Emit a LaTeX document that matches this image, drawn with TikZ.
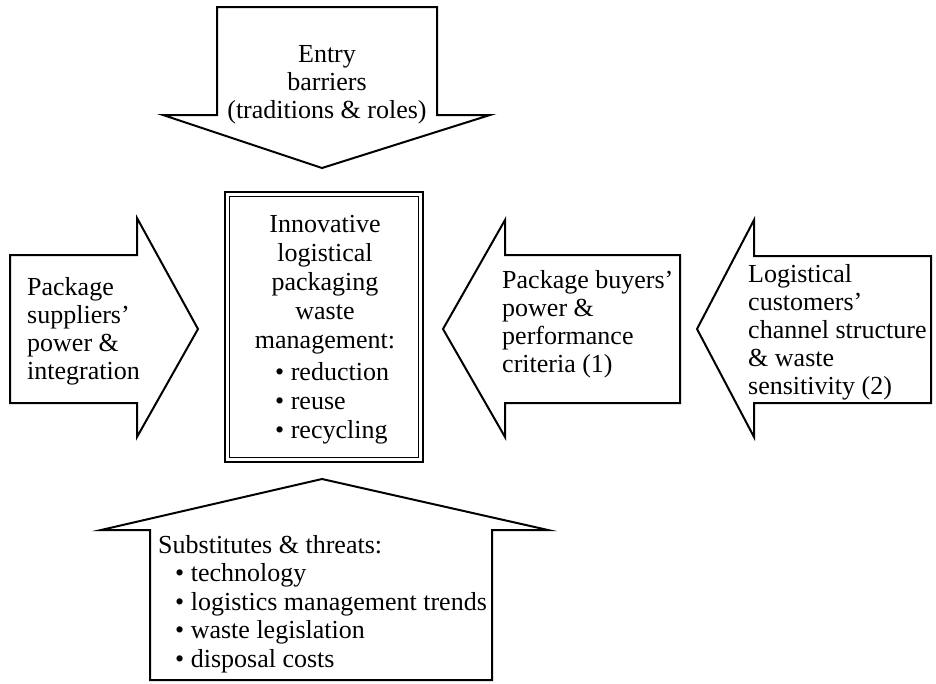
\documentclass[tikz,border=0pt]{standalone}
\usepackage{fontspec}
\setmainfont{Liberation Serif}
\begin{document}
\begin{tikzpicture}[x=1pt,y=-1pt,
  arrowshape/.style={draw=black,line width=2pt,line join=miter,fill=white},
  boxline/.style={draw=black,line width=1.3pt},
  lbl/.style={inner sep=0pt,font={\fontsize{26}{28}\selectfont}},
  lblwide/.style={inner sep=0pt,font={\fontsize{26}{29}\selectfont}}]
\useasboundingbox (0,0) rectangle (936,683);
% top arrow (entry barriers)
\draw[arrowshape] (217,7) -- (437,7) -- (437,115) -- (490,115) -- (322,168) -- (163,115) -- (217,115) -- cycle;
\node[lbl,align=center,anchor=north] (entry) at (327,45) {Entry\\barriers\\(traditions \& roles)};
% left arrow (suppliers)
\draw[arrowshape] (10,255) -- (137,255) -- (137,218) -- (198,329) -- (137,437) -- (137,403) -- (10,403) -- cycle;
\node[lbl,align=left,anchor=north west] (suppliers) at (27,277) {Package\\suppliers’\\power \&\\integration};
% buyers arrow
\draw[arrowshape] (680,255) -- (505,255) -- (505,220) -- (443,329) -- (505,437) -- (505,403) -- (680,403) -- cycle;
\node[lbl,align=left,anchor=north west] (buyers) at (502,270) {Package buyers’\\power \&\\performance\\criteria (1)};
% customers arrow
\draw[arrowshape] (931,256) -- (754,256) -- (754,220) -- (697,329) -- (754,437) -- (754,403) -- (931,403) -- cycle;
\node[lbl,align=left,anchor=north west] (customers) at (748,264) {Logistical\\customers’\\channel structure\\\& waste\\sensitivity (2)};
% bottom arrow (substitutes)
\draw[arrowshape] (150,680) -- (150,530) -- (101,530) -- (322,479) -- (548,530) -- (492,530) -- (492,680) -- cycle;
\node[lbl,align=left,anchor=north west,font={\fontsize{26}{28.5}\selectfont}] (subst) at (158,535) {Substitutes \& threats:\\\hspace*{17pt}• technology\\\hspace*{17pt}• logistics management trends\\\hspace*{17pt}• waste legislation\\\hspace*{17pt}• disposal costs};
% center box
\draw[boxline] (225,192) rectangle (423,462);
\draw[boxline] (229.5,196.5) rectangle (418.5,457.5);
\node[lblwide,align=center,anchor=north] (core) at (325,215) {Innovative\\logistical\\packaging\\waste\\management:};
\node[lblwide,align=left,anchor=north west] (corelist) at (275,362) {• reduction\\• reuse\\• recycling};
\end{tikzpicture}
\end{document}
